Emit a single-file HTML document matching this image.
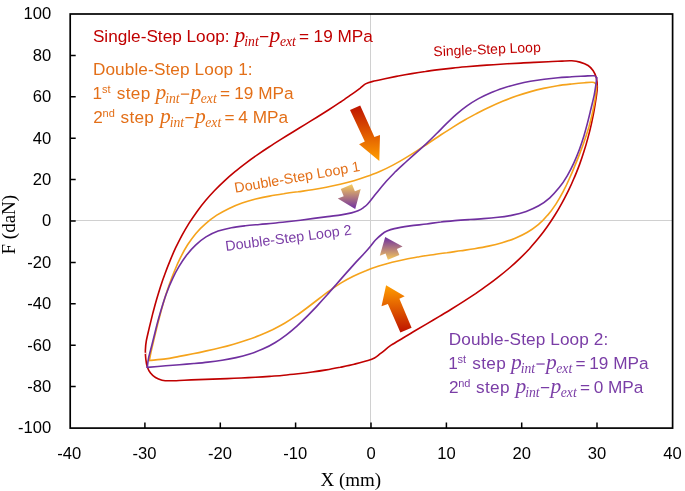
<!DOCTYPE html>
<html><head><meta charset="utf-8"><title>Hysteresis loops</title>
<style>
html,body{margin:0;padding:0;background:#fff;}
body{width:685px;height:491px;overflow:hidden;position:relative;font-family:"Liberation Sans",sans-serif;}
svg{position:absolute;left:0;top:0;display:block;will-change:transform;}
text{font-family:"Liberation Sans",sans-serif;}
.ser{font-family:"Liberation Serif",serif;}
.mi{font-family:"Liberation Serif",serif;font-style:italic;}
</style></head><body>
<svg width="685" height="491" viewBox="0 0 685 491">
<defs>
<linearGradient id="gBU" gradientUnits="userSpaceOnUse" x1="365.0" y1="106.0" x2="365.0" y2="160.0"><stop offset="0" stop-color="#BE1400"/><stop offset="1" stop-color="#FF9C00"/></linearGradient>
<linearGradient id="gBD" gradientUnits="userSpaceOnUse" x1="395.0" y1="286.0" x2="395.0" y2="332.0"><stop offset="0" stop-color="#FF9C00"/><stop offset="1" stop-color="#BE1400"/></linearGradient>
<linearGradient id="gSU" gradientUnits="userSpaceOnUse" x1="350.0" y1="185.0" x2="350.0" y2="208.5"><stop offset="0" stop-color="#F4C85C"/><stop offset="1" stop-color="#7030A0"/></linearGradient>
<linearGradient id="gSD" gradientUnits="userSpaceOnUse" x1="390.0" y1="237.5" x2="390.0" y2="259.5"><stop offset="0" stop-color="#7030A0"/><stop offset="1" stop-color="#F4C85C"/></linearGradient>
</defs>
<rect width="685" height="491" fill="#fff"/>
<line x1="70.2" y1="220.5" x2="672.6" y2="220.5" stroke="#D0D0D0" stroke-width="1"/>
<line x1="370.5" y1="14.0" x2="370.5" y2="428.1" stroke="#D0D0D0" stroke-width="1"/>
<g fill="none" stroke-width="1.62" stroke-linejoin="round" stroke-linecap="round">
<path d="M374.5 358.0 C372.3 359.2 371.4 359.5 368.0 360.5 C364.6 361.5 358.8 363.0 354.2 364.2 C349.6 365.3 344.9 366.3 340.3 367.3 C335.6 368.2 330.9 369.1 326.3 369.9 C321.6 370.7 316.9 371.4 312.2 372.0 C307.5 372.7 302.8 373.3 298.1 373.8 C293.4 374.3 288.7 374.8 283.9 375.2 C279.2 375.7 274.5 376.0 269.7 376.4 C265.0 376.7 260.2 377.0 255.5 377.3 C250.7 377.5 246.0 377.8 241.2 378.0 C236.5 378.2 231.7 378.4 227.0 378.6 C222.2 378.8 217.5 378.9 212.7 379.1 C207.9 379.3 203.2 379.4 198.4 379.6 C193.7 379.8 188.9 380.0 184.2 380.2 C179.5 380.4 173.7 380.8 170.0 380.8 C166.3 380.8 164.4 380.8 162.0 380.2 C159.6 379.6 157.4 378.7 155.5 377.5 C153.6 376.3 151.9 374.8 150.5 373.0 C149.1 371.2 148.1 369.3 147.3 367.0 C146.5 364.7 146.1 361.8 145.8 359.0 C145.5 356.2 145.3 353.0 145.4 350.0 C145.5 347.0 145.6 344.7 146.3 341.0 C147.0 337.3 148.3 332.1 149.3 327.6 C150.4 323.1 151.5 318.6 152.6 314.1 C153.8 309.6 155.0 305.0 156.3 300.5 C157.6 296.0 159.0 291.5 160.4 287.0 C161.8 282.6 163.3 278.1 165.0 273.7 C166.6 269.3 168.3 264.9 170.1 260.6 C171.9 256.2 173.7 251.9 175.7 247.7 C177.8 243.5 179.9 239.3 182.1 235.2 C184.3 231.2 186.7 227.1 189.1 223.2 C191.6 219.3 194.2 215.5 196.9 211.7 C199.6 208.0 202.4 204.3 205.4 200.8 C208.3 197.3 211.4 193.8 214.6 190.5 C217.8 187.2 221.1 183.9 224.5 180.8 C227.9 177.7 231.4 174.7 235.0 171.7 C238.5 168.7 242.2 165.9 245.9 163.1 C249.6 160.3 253.4 157.6 257.3 154.9 C261.1 152.2 265.0 149.6 269.0 147.0 C272.9 144.4 276.9 141.9 280.9 139.4 C284.8 136.9 288.9 134.4 292.9 132.0 C296.9 129.5 300.9 127.1 304.9 124.6 C308.9 122.1 312.9 119.7 316.9 117.2 C320.9 114.8 324.9 112.3 328.8 109.8 C332.7 107.3 336.5 104.8 340.3 102.2 C344.2 99.7 348.3 96.7 351.6 94.4 C354.9 92.1 357.7 90.0 360.0 88.3 C362.3 86.5 363.5 85.0 365.5 83.9 C367.5 82.8 368.8 82.4 372.0 81.6 C375.2 80.8 380.5 79.7 384.9 78.8 C389.3 77.9 393.8 76.9 398.3 76.0 C402.8 75.1 407.3 74.3 411.8 73.6 C416.3 72.8 420.8 72.1 425.4 71.5 C429.9 70.8 434.4 70.2 438.9 69.6 C443.5 69.1 448.0 68.6 452.6 68.1 C457.1 67.6 461.6 67.2 466.2 66.8 C470.7 66.4 475.3 66.0 479.9 65.6 C484.4 65.3 489.0 65.0 493.5 64.7 C498.1 64.4 502.7 64.1 507.2 63.8 C511.8 63.6 516.4 63.3 520.9 63.1 C525.5 62.8 530.1 62.6 534.6 62.4 C539.2 62.2 543.8 62.0 548.3 61.8 C552.9 61.5 558.1 61.3 562.0 61.1 C565.9 60.9 568.8 60.6 571.8 60.8 C574.8 61.0 577.2 61.3 579.9 62.1 C582.6 62.9 585.9 64.1 588.1 65.5 C590.3 66.9 591.8 68.7 593.2 70.7 C594.6 72.8 595.6 75.1 596.3 77.8 C597.0 80.5 597.3 84.0 597.3 87.0 C597.3 90.0 596.9 92.2 596.4 96.0 C595.9 99.8 595.0 105.3 594.2 109.9 C593.4 114.5 592.4 119.2 591.4 123.8 C590.4 128.4 589.3 133.0 588.0 137.6 C586.8 142.1 585.5 146.7 584.0 151.2 C582.6 155.7 581.1 160.2 579.5 164.6 C577.8 169.1 576.1 173.5 574.2 177.8 C572.4 182.2 570.5 186.5 568.4 190.7 C566.3 194.9 564.2 199.1 561.9 203.2 C559.7 207.3 557.3 211.4 554.8 215.3 C552.3 219.3 549.7 223.2 547.0 227.0 C544.3 230.8 541.5 234.5 538.6 238.1 C535.7 241.7 532.6 245.2 529.5 248.7 C526.3 252.1 523.1 255.4 519.7 258.6 C516.4 261.8 512.9 265.0 509.4 268.0 C505.8 271.1 502.2 274.0 498.5 276.9 C494.8 279.9 491.0 282.7 487.2 285.4 C483.4 288.2 479.5 290.9 475.6 293.6 C471.7 296.2 467.7 298.8 463.7 301.4 C459.7 304.0 455.7 306.5 451.6 309.0 C447.6 311.5 443.5 313.9 439.4 316.4 C435.3 318.8 431.3 321.2 427.2 323.6 C423.1 326.0 419.0 328.4 415.0 330.8 C411.0 333.2 406.9 335.6 403.0 338.0 C399.0 340.4 394.8 342.7 391.1 345.2 C387.4 347.7 383.8 351.1 381.0 353.2 C378.2 355.3 376.7 356.8 374.5 358.0Z" stroke="#C00000"/>
<path d="M149.4 360.5 C149.7 359.1 150.2 355.7 151.0 352.0 C151.8 348.3 153.1 343.0 154.2 338.4 C155.3 333.9 156.4 329.3 157.5 324.7 C158.7 320.2 159.9 315.6 161.1 311.0 C162.4 306.4 163.7 301.8 165.1 297.3 C166.5 292.7 168.0 288.2 169.6 283.7 C171.2 279.2 172.9 274.7 174.8 270.3 C176.6 265.9 178.5 261.5 180.7 257.2 C182.8 253.0 185.1 248.7 187.6 244.8 C190.2 240.8 192.9 237.0 195.9 233.4 C198.9 229.9 202.2 226.6 205.7 223.6 C209.2 220.5 212.9 217.8 216.8 215.2 C220.7 212.7 224.9 210.4 229.1 208.4 C233.3 206.4 237.6 204.6 242.1 203.0 C246.5 201.5 251.0 200.2 255.6 199.0 C260.2 197.9 264.8 196.9 269.5 196.1 C274.2 195.2 278.9 194.5 283.7 193.8 C288.4 193.0 293.2 192.4 298.0 191.8 C302.7 191.1 307.5 190.5 312.2 189.7 C316.9 189.0 321.7 188.2 326.3 187.3 C331.0 186.4 335.6 185.4 340.2 184.3 C344.8 183.2 349.4 182.0 353.9 180.7 C358.4 179.4 362.9 177.9 367.3 176.3 C371.7 174.8 376.0 173.0 380.3 171.2 C384.6 169.3 388.8 167.3 392.9 165.1 C397.1 162.9 401.1 160.6 405.2 158.1 C409.2 155.7 413.2 153.2 417.2 150.6 C421.2 148.0 425.1 145.3 429.1 142.7 C433.1 140.1 437.0 137.4 441.0 134.8 C445.0 132.2 449.0 129.6 453.0 127.1 C457.0 124.6 461.1 122.1 465.2 119.8 C469.3 117.4 473.5 115.2 477.6 113.0 C481.8 110.8 486.1 108.7 490.3 106.8 C494.6 104.8 498.9 102.9 503.2 101.1 C507.6 99.3 512.0 97.7 516.4 96.1 C520.8 94.6 525.3 93.2 529.8 91.9 C534.3 90.6 538.9 89.4 543.5 88.4 C548.1 87.4 552.8 86.5 557.5 85.8 C562.2 85.0 567.2 84.5 571.8 84.0 C576.4 83.5 581.6 83.0 585.0 82.7 C588.4 82.4 590.5 82.2 592.2 82.3 C593.9 82.4 594.6 82.7 595.3 83.3 C596.0 83.9 596.3 85.5 596.5 86.0" stroke="#F5A31C"/>
<path d="M596.5 86.0 C596.5 86.7 596.5 87.7 596.3 90.0 C596.0 92.3 595.7 96.1 595.0 100.0 C594.3 103.9 593.3 109.2 592.3 113.7 C591.3 118.2 590.1 122.6 588.9 127.0 C587.6 131.3 586.2 135.7 584.7 140.0 C583.3 144.3 581.7 148.6 580.0 152.9 C578.4 157.3 576.6 161.6 574.8 165.9 C573.1 170.3 571.2 174.7 569.2 179.0 C567.3 183.4 565.2 187.7 563.0 191.9 C560.8 196.1 558.4 200.2 555.9 204.1 C553.4 207.9 550.7 211.7 547.7 215.1 C544.8 218.6 541.7 221.8 538.3 224.7 C534.9 227.5 531.3 230.1 527.4 232.3 C523.6 234.6 519.4 236.5 515.2 238.2 C511.0 240.0 506.6 241.4 502.1 242.7 C497.7 244.0 493.1 245.1 488.5 246.1 C483.9 247.1 479.2 247.9 474.5 248.7 C469.9 249.5 465.3 250.1 460.7 250.8 C456.0 251.5 451.4 252.1 446.9 252.8 C442.3 253.4 437.7 254.0 433.1 254.7 C428.5 255.3 423.9 256.0 419.3 256.7 C414.8 257.5 410.2 258.3 405.7 259.2 C401.1 260.1 396.6 261.1 392.1 262.2 C387.6 263.3 383.2 264.6 378.8 266.0 C374.4 267.4 370.1 268.9 365.9 270.7 C361.6 272.4 357.4 274.2 353.3 276.3 C349.2 278.3 345.2 280.5 341.2 282.9 C337.3 285.3 333.5 287.9 329.7 290.6 C325.9 293.3 322.3 296.1 318.6 299.0 C314.9 301.8 311.2 304.7 307.5 307.5 C303.8 310.3 300.1 313.1 296.3 315.7 C292.5 318.4 288.6 320.9 284.6 323.2 C280.7 325.5 276.6 327.6 272.5 329.7 C268.3 331.7 264.1 333.5 259.9 335.2 C255.6 337.0 251.2 338.6 246.9 340.0 C242.5 341.5 238.1 342.9 233.6 344.2 C229.2 345.5 224.7 346.7 220.1 347.8 C215.6 348.9 211.1 349.9 206.5 350.9 C202.0 351.9 197.4 352.9 192.9 353.8 C188.3 354.7 183.8 355.5 179.2 356.4 C174.7 357.2 170.7 358.2 165.7 358.9 C160.7 359.6 152.1 360.2 149.4 360.5" stroke="#F5A31C"/>
<path d="M147.3 367.4 C147.5 365.8 147.8 361.7 148.6 358.0 C149.4 354.3 150.8 349.4 151.9 345.0 C153.0 340.7 154.1 336.2 155.2 331.7 C156.3 327.3 157.4 322.8 158.7 318.3 C159.9 313.8 161.2 309.3 162.6 304.9 C164.0 300.4 165.4 296.0 167.1 291.7 C168.7 287.3 170.5 283.0 172.5 278.8 C174.4 274.7 176.5 270.6 178.9 266.6 C181.2 262.7 183.8 258.8 186.5 255.2 C189.3 251.6 192.3 248.2 195.6 245.1 C198.8 242.1 202.3 239.2 206.0 236.9 C209.8 234.6 213.8 232.7 218.1 231.1 C222.3 229.6 226.8 228.6 231.4 227.7 C235.9 226.8 240.7 226.3 245.3 225.8 C250.0 225.2 254.8 224.9 259.4 224.5 C264.1 224.0 268.7 223.7 273.3 223.2 C277.9 222.8 282.4 222.3 286.9 221.8 C291.4 221.3 295.9 220.7 300.4 220.2 C304.9 219.6 309.4 219.0 313.9 218.4 C318.4 217.8 322.9 217.2 327.5 216.6 C332.1 216.0 337.3 215.5 341.3 214.9 C345.3 214.3 348.7 213.6 351.5 212.9 C354.3 212.2 356.0 211.7 358.0 210.8 C360.0 209.9 361.9 208.8 363.5 207.6 C365.1 206.4 365.8 206.1 367.9 203.8 C370.0 201.5 373.0 197.3 376.1 193.6 C379.2 189.8 383.0 185.0 386.3 181.3 C389.6 177.6 392.6 174.6 395.8 171.3 C399.1 168.1 402.5 165.1 405.9 162.0 C409.3 158.9 412.7 155.9 416.1 152.8 C419.6 149.8 423.0 146.7 426.4 143.6 C429.8 140.4 433.1 137.1 436.4 133.8 C439.7 130.6 442.9 127.1 446.2 123.9 C449.5 120.6 452.8 117.3 456.3 114.3 C459.7 111.3 463.3 108.4 467.0 105.8 C470.7 103.2 474.6 100.8 478.5 98.6 C482.5 96.5 486.6 94.5 490.8 92.7 C494.9 90.9 499.2 89.4 503.6 87.9 C507.9 86.5 512.4 85.3 516.8 84.2 C521.3 83.1 525.8 82.1 530.4 81.3 C535.0 80.5 539.6 79.8 544.2 79.2 C548.8 78.6 553.4 78.1 558.0 77.7 C562.6 77.3 567.3 77.1 571.8 76.8 C576.3 76.5 581.3 76.3 585.0 76.1 C588.7 75.9 592.2 75.5 594.2 75.8 C596.2 76.1 596.3 77.5 596.7 77.8" stroke="#7030A0"/>
<path d="M596.7 77.8 C596.6 78.8 596.4 81.2 596.0 84.0 C595.6 86.8 595.1 90.6 594.3 94.6 C593.5 98.6 592.2 103.7 591.1 108.3 C590.0 112.8 588.9 117.5 587.7 122.1 C586.5 126.7 585.3 131.3 583.9 135.9 C582.5 140.4 581.0 145.0 579.4 149.5 C577.7 154.0 575.9 158.5 573.9 162.9 C571.9 167.3 569.7 171.7 567.2 175.8 C564.8 179.9 562.2 183.9 559.2 187.6 C556.3 191.2 553.2 194.7 549.8 197.8 C546.4 200.8 542.7 203.5 538.7 205.8 C534.8 208.0 530.6 209.8 526.2 211.4 C521.8 212.9 517.2 214.1 512.5 215.1 C507.8 216.0 502.9 216.7 498.1 217.3 C493.2 217.9 488.3 218.3 483.4 218.6 C478.6 219.0 473.7 219.3 468.9 219.6 C464.1 219.9 459.4 220.2 454.7 220.6 C450.0 221.0 445.4 221.4 440.8 222.0 C436.1 222.5 431.9 223.3 426.8 224.0 C421.7 224.7 415.4 225.1 410.0 225.9 C404.6 226.7 398.2 227.7 394.4 228.6 C390.6 229.5 389.0 230.2 387.0 231.1 C385.0 232.0 384.1 232.5 382.2 234.0 C380.3 235.5 377.4 238.1 375.5 240.0 C373.6 241.9 372.7 243.5 370.9 245.7 C369.1 247.9 367.2 250.1 364.6 253.0 C362.0 255.9 358.3 259.7 355.1 263.1 C352.0 266.6 348.9 270.1 345.7 273.6 C342.6 277.1 339.5 280.7 336.4 284.3 C333.3 287.8 330.1 291.4 327.0 295.0 C323.8 298.5 320.6 302.1 317.4 305.6 C314.1 309.1 310.8 312.5 307.5 315.9 C304.1 319.3 300.7 322.6 297.2 325.8 C293.7 328.9 290.1 332.0 286.4 334.8 C282.7 337.6 278.9 340.3 274.9 342.7 C271.0 345.1 266.9 347.2 262.7 349.1 C258.4 351.0 254.1 352.6 249.7 354.0 C245.2 355.4 240.7 356.6 236.1 357.6 C231.5 358.7 226.8 359.5 222.1 360.2 C217.4 361.0 212.7 361.6 207.9 362.1 C203.2 362.7 198.4 363.1 193.7 363.5 C189.0 363.9 184.2 364.3 179.5 364.7 C174.9 365.0 171.1 365.3 165.7 365.8 C160.3 366.3 150.4 367.1 147.3 367.4" stroke="#7030A0"/>
</g>
<path d="M143.6 353.3H146.2" stroke="#fff" stroke-width="1"/>
<polygon points="350.0,110.0 360.2,105.4 374.4,137.0 380.0,135.0 379.3,161.0 359.1,144.2 364.8,141.6" fill="url(#gBU)"/>
<polygon points="386.1,285.3 404.7,296.3 399.4,298.7 411.6,327.7 400.4,332.6 387.9,303.9 381.5,306.3" fill="url(#gBD)"/>
<polygon points="340.8,188.9 352.0,184.2 354.9,191.3 360.7,188.9 355.2,209.1 337.8,198.4 343.7,196.3" fill="url(#gSU)"/>
<polygon points="385.2,236.9 402.6,246.5 396.9,249.0 399.4,255.1 387.9,259.8 385.6,253.6 379.8,255.7" fill="url(#gSD)"/>
<rect x="70.2" y="14.0" width="602.4" height="414.1" fill="none" stroke="#000" stroke-width="1.7"/>
<path d="M70.2 386.6h5.5M70.2 345.2h5.5M70.2 303.8h5.5M70.2 262.4h5.5M70.2 221.0h5.5M70.2 179.6h5.5M70.2 138.2h5.5M70.2 96.8h5.5M70.2 55.4h5.5M144.9 428.1v-5.5M220.3 428.1v-5.5M295.6 428.1v-5.5M371.0 428.1v-5.5M446.4 428.1v-5.5M521.7 428.1v-5.5M597.0 428.1v-5.5" stroke="#000" stroke-width="1.5" fill="none"/>
<g font-size="16.6" fill="#000">
<text x="51.3" y="433.4" text-anchor="end">-100</text>
<text x="51.3" y="392.0" text-anchor="end">-80</text>
<text x="51.3" y="350.6" text-anchor="end">-60</text>
<text x="51.3" y="309.2" text-anchor="end">-40</text>
<text x="51.3" y="267.8" text-anchor="end">-20</text>
<text x="51.3" y="226.4" text-anchor="end">0</text>
<text x="51.3" y="185.0" text-anchor="end">20</text>
<text x="51.3" y="143.6" text-anchor="end">40</text>
<text x="51.3" y="102.2" text-anchor="end">60</text>
<text x="51.3" y="60.8" text-anchor="end">80</text>
<text x="51.3" y="19.3" text-anchor="end">100</text>
<text x="69.3" y="459.3" text-anchor="middle">-40</text>
<text x="144.6" y="459.3" text-anchor="middle">-30</text>
<text x="220.0" y="459.3" text-anchor="middle">-20</text>
<text x="295.3" y="459.3" text-anchor="middle">-10</text>
<text x="371.0" y="459.3" text-anchor="middle">0</text>
<text x="446.4" y="459.3" text-anchor="middle">10</text>
<text x="521.7" y="459.3" text-anchor="middle">20</text>
<text x="597.0" y="459.3" text-anchor="middle">30</text>
<text x="672.4" y="459.3" text-anchor="middle">40</text>
</g>
<text class="ser" font-size="19" x="350.8" y="485.6" text-anchor="middle">X (mm)</text>
<text class="ser" font-size="19" transform="translate(15.4,224.7) rotate(-90)" text-anchor="middle">F (daN)</text>
<text x="92.9" y="41.6" font-size="17.2" fill="#C00000">Single-Step Loop:</text>
<text y="41.6" font-size="17.2" fill="#C00000"><tspan class="mi" font-size="21.5" x="234.6">p</tspan><tspan class="mi" font-size="13.7" x="244.3" dy="4.2">int</tspan><tspan class="mi" font-size="21.5" x="269.6" dy="-4.2">p</tspan><tspan class="mi" font-size="13.7" x="279.9" dy="4.2">ext</tspan><tspan x="299.1" dy="-4.2">=</tspan><tspan x="313.6">19 MPa</tspan></text>
<rect x="260.0" y="36.0" width="8.3" height="1.25" fill="#C00000"/>
<text x="92.9" y="75.4" font-size="17.2" fill="#E36F18" textLength="159.7" lengthAdjust="spacing">Double-Step Loop 1:</text>
<text y="99.1" font-size="17.2" fill="#E36F18"><tspan x="92.4">1</tspan><tspan x="101.9" dy="-5.8" font-size="11.0">st</tspan><tspan x="116.8" dy="5.8" textLength="33.4" lengthAdjust="spacing">step</tspan></text>
<text y="99.1" font-size="17.2" fill="#E36F18"><tspan class="mi" font-size="21.5" x="155.5">p</tspan><tspan class="mi" font-size="13.7" x="165.2" dy="4.2">int</tspan><tspan class="mi" font-size="21.5" x="190.5" dy="-4.2">p</tspan><tspan class="mi" font-size="13.7" x="200.8" dy="4.2">ext</tspan><tspan x="220.0" dy="-4.2">=</tspan><tspan x="234.3">19 MPa</tspan></text>
<rect x="180.9" y="93.5" width="8.3" height="1.25" fill="#E36F18"/>
<text y="122.6" font-size="17.2" fill="#E36F18"><tspan x="93.2">2</tspan><tspan x="102.6" dy="-5.8" font-size="11.0">nd</tspan><tspan x="120.5" dy="5.8" textLength="33.4" lengthAdjust="spacing">step</tspan></text>
<text y="122.6" font-size="17.2" fill="#E36F18"><tspan class="mi" font-size="21.5" x="160.0">p</tspan><tspan class="mi" font-size="13.7" x="169.7" dy="4.2">int</tspan><tspan class="mi" font-size="21.5" x="195.0" dy="-4.2">p</tspan><tspan class="mi" font-size="13.7" x="205.3" dy="4.2">ext</tspan><tspan x="224.5" dy="-4.2">=</tspan><tspan x="238.3">4 MPa</tspan></text>
<rect x="185.4" y="117.0" width="8.3" height="1.25" fill="#E36F18"/>
<text x="448.7" y="345.3" font-size="17.2" fill="#7A3DA6" textLength="159.5" lengthAdjust="spacing">Double-Step Loop 2:</text>
<text y="369.0" font-size="17.2" fill="#7A3DA6"><tspan x="448.2">1</tspan><tspan x="457.6" dy="-5.8" font-size="11.0">st</tspan><tspan x="472.3" dy="5.8" textLength="33.4" lengthAdjust="spacing">step</tspan></text>
<text y="369.0" font-size="17.2" fill="#7A3DA6"><tspan class="mi" font-size="21.5" x="511.0">p</tspan><tspan class="mi" font-size="13.7" x="520.7" dy="4.2">int</tspan><tspan class="mi" font-size="21.5" x="546.0" dy="-4.2">p</tspan><tspan class="mi" font-size="13.7" x="556.3" dy="4.2">ext</tspan><tspan x="575.5" dy="-4.2">=</tspan><tspan x="589.3">19 MPa</tspan></text>
<rect x="536.4" y="363.4" width="8.3" height="1.25" fill="#7A3DA6"/>
<text y="392.6" font-size="17.2" fill="#7A3DA6"><tspan x="449.0">2</tspan><tspan x="458.2" dy="-5.8" font-size="11.0">nd</tspan><tspan x="476.1" dy="5.8" textLength="33.4" lengthAdjust="spacing">step</tspan></text>
<text y="392.6" font-size="17.2" fill="#7A3DA6"><tspan class="mi" font-size="21.5" x="515.5">p</tspan><tspan class="mi" font-size="13.7" x="525.2" dy="4.2">int</tspan><tspan class="mi" font-size="21.5" x="550.5" dy="-4.2">p</tspan><tspan class="mi" font-size="13.7" x="560.8" dy="4.2">ext</tspan><tspan x="580.0" dy="-4.2">=</tspan><tspan x="593.7">0 MPa</tspan></text>
<rect x="540.9" y="387.0" width="8.3" height="1.25" fill="#7A3DA6"/>
<text transform="translate(433.6,56.3) rotate(-2.40)" font-size="14.00" fill="#C00000">Single-Step Loop</text>
<text transform="translate(235.3,192.8) rotate(-9.90)" font-size="14.30" fill="#E36F18">Double-Step Loop 1</text>
<text transform="translate(225.9,250.9) rotate(-7.40)" font-size="14.30" fill="#7A3DA6">Double-Step Loop 2</text>
</svg>
</body></html>
